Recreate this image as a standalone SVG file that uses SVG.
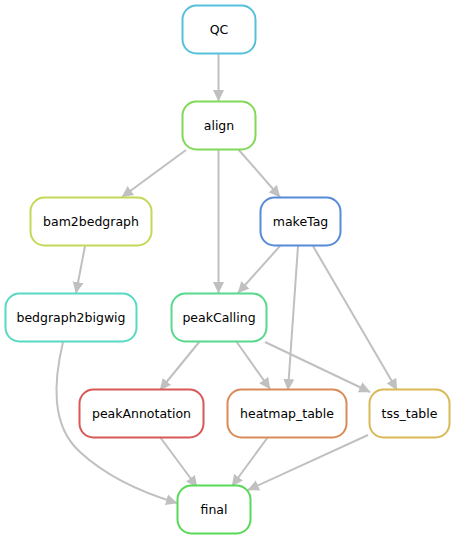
<svg xmlns="http://www.w3.org/2000/svg" width="455" height="539" viewBox="0 0 455 539">
<defs>
<marker id="ah" markerUnits="userSpaceOnUse" markerWidth="12" markerHeight="12" refX="11" refY="6" orient="auto" viewBox="0 0 12 12">
<path d="M0,0.5 L11.5,6 L0,11.5 z" fill="#c0c0c0"/>
</marker>
<style>
.n rect{fill:#fff;stroke-width:2}
.n text{font-family:"DejaVu Sans",sans-serif;font-size:12.5px;fill:#000;text-anchor:middle;dominant-baseline:central}
#edges path{fill:none;stroke:#c0c0c0;stroke-width:2;marker-end:url(#ah)}
</style>
</defs>
<rect width="455" height="539" fill="#fff"/>
<g id="edges">
<path d="M218.5,53 L218.5,101"/>
<path d="M186,150 L122,197"/>
<path d="M218.5,149 L218.5,293"/>
<path d="M238,149 L280,197"/>
<path d="M85,246 L76,293"/>
<path d="M280,246 L238,293"/>
<path d="M298,246 L288,390"/>
<path d="M313,246 L397,390"/>
<path d="M265,342 L370,392"/>
<path d="M200,341 L160,390"/>
<path d="M236,341 L270,389"/>
<path d="M63,342 C54,380 50,425 80,452 C105,475 140,492 177,503"/>
<path d="M160,437 L197,487"/>
<path d="M268,437 L232,486"/>
<path d="M368,435 L248,490"/>
</g>
<g id="QC" class="n"><rect x="182.5" y="5.5" width="73" height="48" rx="14" stroke="#57c0d9"/><text x="219" y="29.5">QC</text></g>
<g id="align" class="n"><rect x="182.5" y="101.5" width="73" height="48" rx="14" stroke="#80d957"/><text x="219" y="125.5">align</text></g>
<g id="bam2bedgraph" class="n"><rect x="30.5" y="197.5" width="121" height="48" rx="14" stroke="#c2d957"/><text x="91" y="221.5">bam2bedgraph</text></g>
<g id="makeTag" class="n"><rect x="260.5" y="197.5" width="80" height="48" rx="14" stroke="#578bd9"/><text x="300.5" y="221.5">makeTag</text></g>
<g id="bedgraph2bigwig" class="n"><rect x="5.5" y="293.5" width="131" height="48" rx="14" stroke="#57d9c2"/><text x="71" y="317.5">bedgraph2bigwig</text></g>
<g id="peakCalling" class="n"><rect x="171.5" y="293.5" width="95" height="48" rx="14" stroke="#57d98b"/><text x="219" y="317.5">peakCalling</text></g>
<g id="peakAnnotation" class="n"><rect x="79.5" y="389.5" width="124" height="48" rx="14" stroke="#d95757"/><text x="141.5" y="413.5">peakAnnotation</text></g>
<g id="heatmap_table" class="n"><rect x="227.5" y="389.5" width="119" height="48" rx="14" stroke="#d98b57"/><text x="287" y="413.5">heatmap_table</text></g>
<g id="tss_table" class="n"><rect x="369.5" y="389.5" width="80" height="48" rx="14" stroke="#d9b957"/><text x="409.5" y="413.5">tss_table</text></g>
<g id="final" class="n"><rect x="177.5" y="485.5" width="73" height="48" rx="14" stroke="#57d957"/><text x="214" y="509.5">final</text></g>
</svg>
